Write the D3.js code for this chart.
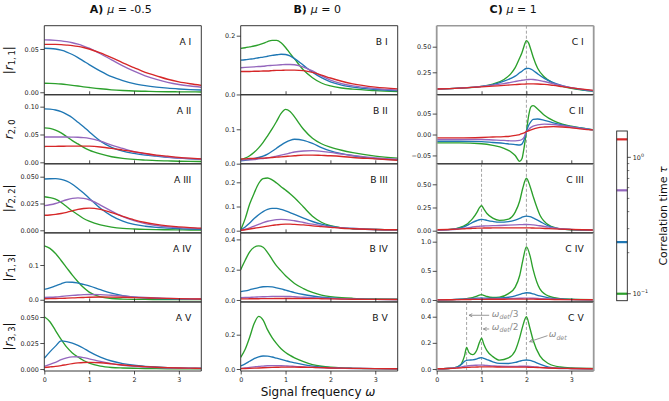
<!DOCTYPE html>
<html><head><meta charset="utf-8">
<script src="https://cdn.jsdelivr.net/npm/d3@7"></script>
<style>body{margin:0;background:#fff} svg{display:block;font-family:"DejaVu Sans",sans-serif}</style>
</head><body><svg id="chart" width="669" height="401"></svg>
<script>
// ---------------- DATA ----------------
const tau = [0.1, 0.239, 0.573, 1.355];           // correlation times (green, blue, purple, red)
const columnTitles = [["A)", "-0.5"], ["B)", "0"], ["C)", "1"]];
const rowSubs = [["1,\u20091", true], ["2,\u20090", false], ["2,\u20092", true], ["1,\u20093", true], ["3,\u20093", true]];
const romans = ["I", "II", "III", "IV", "V"];
const xTicks = [0, 1, 2, 3];

const omegaA = [0,0.125,0.25,0.375,0.5,0.625,0.75,0.875,1,1.25,1.5,1.75,2,2.25,2.5,2.75,3,3.25,3.5];
const omegaB = [0,0.1,0.2,0.3,0.4,0.5,0.6,0.7,0.8,0.9,1.0,1.1,1.2,1.4,1.6,1.8,2.0,2.25,2.5,3.0,3.5];
const omegaC12 = [0,0.5,1.0,1.25,1.5,1.65,1.75,1.85,1.9,1.95,2.0,2.05,2.1,2.15,2.25,2.4,2.6,2.8,3.0,3.25,3.5];
const omegaC345 = [0,0.25,0.45,0.55,0.62,0.667,0.72,0.8,0.9,0.95,1.0,1.05,1.12,1.25,1.4,1.6,1.75,1.85,1.92,2.0,2.08,2.15,2.3,2.5,2.75,3.0,3.5];

// each panel: [green, blue, purple, red]
const A1 = [
 [0.0104,0.0103,0.0100,0.0095,0.0088,0.0080,0.0072,0.0063,0.0055,0.0040,0.0028,0.0020,0.0014,0.0011,0.0008,0.0006,0.0005,0.0004,0.0003],
 [0.0508,0.0506,0.0500,0.0486,0.0465,0.0436,0.0400,0.0360,0.0320,0.0245,0.0180,0.0135,0.0100,0.0077,0.0060,0.0047,0.0038,0.0031,0.0026],
 [0.0605,0.0604,0.0600,0.0594,0.0585,0.0572,0.0555,0.0534,0.0510,0.0445,0.0375,0.0305,0.0243,0.0190,0.0148,0.0115,0.0090,0.0072,0.0058],
 [0.0554,0.0554,0.0553,0.0550,0.0545,0.0539,0.0530,0.0517,0.0500,0.0455,0.0400,0.0340,0.0285,0.0230,0.0190,0.0150,0.0120,0.0098,0.0080]];
const A2 = [
 [0.062,0.061,0.058,0.053,0.046,0.039,0.033,0.027,0.022,0.015,0.010,0.007,0.0052,0.004,0.003,0.0025,0.002,0.0017,0.0015],
 [0.096,0.0955,0.094,0.091,0.086,0.080,0.072,0.064,0.055,0.038,0.027,0.020,0.016,0.013,0.011,0.009,0.0075,0.0062,0.0052],
 [0.0455,0.0455,0.0455,0.0455,0.0455,0.0453,0.045,0.0443,0.043,0.038,0.031,0.025,0.019,0.015,0.012,0.0095,0.0078,0.0065,0.0055],
 [0.0285,0.0286,0.0287,0.0289,0.029,0.0291,0.0292,0.0292,0.029,0.0275,0.025,0.022,0.019,0.016,0.013,0.011,0.009,0.0075,0.0063]];
const A3 = [
 [0.0313,0.0305,0.029,0.026,0.022,0.018,0.0145,0.011,0.0085,0.005,0.003,0.0018,0.0012,0.0008,0.0006,0.0005,0.0004,0.0003,0.0003],
 [0.0478,0.0481,0.0482,0.0475,0.0458,0.043,0.039,0.0347,0.030,0.0205,0.0135,0.0085,0.0055,0.0038,0.0027,0.002,0.0015,0.0012,0.001],
 [0.023,0.0238,0.025,0.0268,0.0285,0.0298,0.0303,0.0298,0.0285,0.0235,0.0178,0.0128,0.009,0.0063,0.0045,0.0033,0.0025,0.002,0.0016],
 [0.014,0.0143,0.0148,0.0157,0.0168,0.0182,0.0195,0.0203,0.0207,0.0195,0.0165,0.013,0.0098,0.0073,0.0055,0.0042,0.0032,0.0025,0.002]];
const A4 = [
 [0.155,0.148,0.133,0.113,0.092,0.071,0.052,0.035,0.022,0.008,0.0035,0.002,0.0013,0.001,0.0008,0.0006,0.0005,0.0004,0.0003],
 [0.030,0.034,0.040,0.046,0.0508,0.0505,0.048,0.044,0.040,0.029,0.019,0.012,0.0075,0.005,0.0035,0.0026,0.002,0.0016,0.0013],
 [0.007,0.0073,0.008,0.0094,0.011,0.0125,0.0138,0.0147,0.0152,0.0148,0.013,0.0108,0.0085,0.0065,0.005,0.004,0.0032,0.0026,0.0021],
 [0.003,0.0032,0.0035,0.004,0.0045,0.0052,0.006,0.0066,0.0072,0.0078,0.0077,0.0072,0.0063,0.0054,0.0045,0.0038,0.0032,0.0027,0.0023]];
const A5 = [
 [0.0503,0.0455,0.037,0.0285,0.021,0.0155,0.0115,0.0082,0.0057,0.0028,0.0015,0.001,0.0007,0.0005,0.0004,0.0003,0.0002,0.0002,0.0002],
 [0.0103,0.0165,0.022,0.0271,0.0264,0.0250,0.0228,0.020,0.0168,0.0115,0.0077,0.0052,0.0036,0.0026,0.0019,0.0014,0.0011,0.0009,0.0007],
 [0.0025,0.0045,0.0065,0.009,0.0108,0.0117,0.0118,0.0110,0.0098,0.0073,0.0052,0.0036,0.0025,0.0018,0.0013,0.001,0.0008,0.0006,0.0005],
 [0.0015,0.002,0.0025,0.0033,0.0043,0.0052,0.0059,0.0063,0.0064,0.006,0.005,0.0039,0.003,0.0023,0.0017,0.0013,0.001,0.0008,0.0006]];

const B1 = [
 [0.157,0.159,0.162,0.165,0.169,0.174,0.180,0.184,0.184,0.176,0.160,0.140,0.121,0.083,0.057,0.039,0.029,0.022,0.018,0.013,0.0095],
 [0.117,0.118,0.120,0.122,0.125,0.127,0.130,0.133,0.135,0.137,0.136,0.131,0.122,0.099,0.076,0.057,0.043,0.032,0.025,0.017,0.013],
 [0.091,0.092,0.093,0.094,0.095,0.096,0.098,0.099,0.100,0.101,0.102,0.102,0.101,0.093,0.080,0.063,0.049,0.037,0.029,0.020,0.015],
 [0.078,0.078,0.078,0.079,0.079,0.080,0.080,0.081,0.082,0.082,0.083,0.083,0.083,0.081,0.075,0.066,0.056,0.045,0.036,0.025,0.019]];
const B2 = [
 [0.011,0.016,0.023,0.033,0.046,0.062,0.081,0.101,0.123,0.146,0.158,0.152,0.136,0.100,0.074,0.058,0.048,0.039,0.032,0.022,0.016],
 [0.008,0.010,0.012,0.015,0.018,0.022,0.028,0.036,0.045,0.054,0.062,0.068,0.071,0.068,0.059,0.047,0.037,0.029,0.023,0.015,0.011],
 [0.010,0.011,0.011,0.012,0.014,0.015,0.017,0.019,0.022,0.025,0.028,0.031,0.034,0.037,0.038,0.036,0.033,0.028,0.024,0.017,0.013],
 [0.014,0.014,0.015,0.015,0.016,0.016,0.017,0.018,0.019,0.020,0.021,0.022,0.023,0.025,0.025,0.024,0.023,0.021,0.018,0.014,0.010]];
const B3 = [
 [0.003,0.050,0.110,0.155,0.195,0.215,0.218,0.210,0.197,0.182,0.168,0.153,0.136,0.098,0.060,0.035,0.021,0.012,0.008,0.005,0.004],
 [0.003,0.015,0.032,0.050,0.066,0.079,0.088,0.092,0.092,0.088,0.082,0.075,0.067,0.052,0.038,0.027,0.019,0.012,0.009,0.005,0.004],
 [0.002,0.006,0.012,0.019,0.026,0.033,0.039,0.043,0.046,0.047,0.046,0.044,0.041,0.034,0.027,0.021,0.016,0.012,0.009,0.005,0.004],
 [0.002,0.004,0.007,0.010,0.013,0.016,0.019,0.022,0.024,0.026,0.027,0.027,0.026,0.024,0.020,0.017,0.014,0.010,0.008,0.005,0.004]];
const B4 = [
 [0.200,0.262,0.318,0.348,0.357,0.348,0.313,0.268,0.225,0.192,0.160,0.133,0.109,0.075,0.050,0.032,0.022,0.015,0.011,0.007,0.005],
 [0.055,0.060,0.067,0.075,0.082,0.087,0.088,0.086,0.080,0.073,0.065,0.057,0.049,0.036,0.026,0.018,0.013,0.009,0.007,0.004,0.003],
 [0.015,0.016,0.017,0.019,0.020,0.021,0.022,0.023,0.024,0.024,0.023,0.023,0.021,0.018,0.015,0.012,0.010,0.008,0.006,0.004,0.003],
 [0.007,0.007,0.008,0.008,0.008,0.009,0.009,0.009,0.010,0.010,0.010,0.010,0.010,0.009,0.009,0.008,0.007,0.006,0.005,0.004,0.003]];
const B5 = [
 [0.068,0.115,0.185,0.265,0.307,0.285,0.228,0.183,0.148,0.118,0.096,0.079,0.065,0.043,0.026,0.016,0.010,0.006,0.004,0.002,0.0015],
 [0.018,0.030,0.045,0.060,0.071,0.076,0.075,0.070,0.063,0.056,0.049,0.042,0.036,0.025,0.017,0.011,0.008,0.005,0.004,0.002,0.0015],
 [0.004,0.006,0.009,0.012,0.015,0.017,0.019,0.020,0.020,0.019,0.018,0.017,0.015,0.012,0.009,0.007,0.005,0.004,0.003,0.002,0.0015],
 [0.002,0.003,0.004,0.005,0.006,0.007,0.008,0.009,0.010,0.011,0.011,0.011,0.011,0.010,0.009,0.008,0.006,0.005,0.004,0.002,0.0015]];

const C1 = [
 [0.087,0.095,0.113,0.135,0.180,0.235,0.295,0.390,0.440,0.510,0.560,0.535,0.470,0.400,0.290,0.205,0.145,0.113,0.093,0.077,0.065],
 [0.087,0.095,0.113,0.130,0.163,0.190,0.213,0.245,0.260,0.277,0.287,0.288,0.282,0.268,0.235,0.190,0.148,0.120,0.098,0.080,0.066],
 [0.087,0.095,0.112,0.125,0.140,0.152,0.160,0.168,0.172,0.175,0.178,0.180,0.181,0.180,0.174,0.160,0.138,0.118,0.100,0.083,0.070],
 [0.087,0.095,0.108,0.115,0.122,0.127,0.130,0.133,0.134,0.135,0.136,0.137,0.137,0.137,0.136,0.132,0.122,0.110,0.098,0.085,0.073]];
const C2 = [
 [-0.020,-0.020,-0.022,-0.026,-0.033,-0.041,-0.050,-0.064,-0.058,-0.030,0.007,0.045,0.066,0.069,0.061,0.046,0.033,0.025,0.020,0.015,0.011],
 [-0.016,-0.016,-0.017,-0.019,-0.021,-0.023,-0.024,-0.025,-0.023,-0.012,0.007,0.022,0.031,0.036,0.037,0.034,0.028,0.023,0.019,0.015,0.011],
 [-0.012,-0.012,-0.012,-0.013,-0.014,-0.015,-0.015,-0.014,-0.012,-0.006,0.007,0.012,0.017,0.020,0.023,0.025,0.024,0.021,0.018,0.014,0.011],
 [-0.008,-0.008,-0.007,-0.006,-0.005,-0.004,-0.002,0.000,0.002,0.004,0.007,0.009,0.011,0.013,0.016,0.018,0.019,0.018,0.016,0.013,0.011]];
const C3 = [
 [0.008,0.012,0.025,0.040,0.055,0.068,0.090,0.130,0.200,0.245,0.270,0.235,0.185,0.135,0.112,0.125,0.200,0.320,0.460,0.565,0.480,0.370,0.170,0.060,0.020,0.010,0.007],
 [0.008,0.012,0.022,0.032,0.045,0.055,0.068,0.090,0.110,0.118,0.122,0.120,0.112,0.100,0.092,0.098,0.115,0.133,0.148,0.157,0.152,0.138,0.100,0.050,0.020,0.012,0.007],
 [0.006,0.009,0.016,0.022,0.027,0.030,0.034,0.040,0.046,0.048,0.050,0.051,0.052,0.054,0.056,0.060,0.063,0.065,0.066,0.067,0.066,0.063,0.053,0.038,0.022,0.014,0.008],
 [0.010,0.013,0.017,0.019,0.021,0.022,0.023,0.025,0.027,0.028,0.028,0.029,0.029,0.030,0.031,0.031,0.031,0.031,0.031,0.031,0.030,0.029,0.027,0.022,0.017,0.013,0.008]];
const C4 = [
 [0.005,0.007,0.012,0.016,0.020,0.024,0.030,0.042,0.065,0.085,0.092,0.080,0.060,0.045,0.050,0.110,0.220,0.420,0.680,0.910,0.760,0.520,0.190,0.065,0.025,0.013,0.006],
 [0.004,0.006,0.010,0.013,0.016,0.018,0.021,0.026,0.031,0.033,0.034,0.033,0.031,0.030,0.034,0.048,0.070,0.095,0.113,0.125,0.120,0.105,0.070,0.037,0.017,0.010,0.005],
 [0.003,0.005,0.008,0.010,0.011,0.012,0.013,0.015,0.017,0.018,0.018,0.019,0.019,0.020,0.022,0.025,0.028,0.030,0.031,0.032,0.031,0.030,0.025,0.018,0.011,0.007,0.004],
 [0.003,0.004,0.006,0.007,0.008,0.008,0.009,0.010,0.011,0.011,0.012,0.012,0.012,0.013,0.013,0.014,0.014,0.014,0.014,0.014,0.014,0.014,0.012,0.010,0.008,0.006,0.004]];
const C5 = [
 [0.002,0.004,0.015,0.040,0.100,0.165,0.125,0.110,0.150,0.200,0.235,0.190,0.140,0.095,0.068,0.085,0.140,0.240,0.330,0.400,0.310,0.220,0.100,0.040,0.015,0.008,0.004],
 [0.002,0.004,0.015,0.035,0.058,0.066,0.068,0.070,0.078,0.084,0.087,0.082,0.072,0.055,0.043,0.042,0.050,0.060,0.066,0.069,0.066,0.058,0.037,0.015,0.006,0.004,0.002],
 [0.002,0.004,0.010,0.016,0.021,0.023,0.025,0.027,0.029,0.030,0.030,0.029,0.027,0.024,0.021,0.020,0.020,0.021,0.021,0.021,0.020,0.018,0.013,0.008,0.004,0.003,0.002],
 [0.002,0.004,0.007,0.009,0.011,0.012,0.013,0.014,0.015,0.016,0.016,0.016,0.016,0.016,0.015,0.014,0.014,0.014,0.014,0.014,0.013,0.013,0.011,0.008,0.005,0.004,0.002]];

// y ranges and tick values per panel
const yDomains = {
  A1:[-0.0029,0.0769], A2:[-0.0027,0.1214], A3:[-0.0024,0.062], A4:[-0.0063,0.1925], A5:[-0.0019,0.0645],
  B1:[-0.001,0.234], B2:[-0.0004,0.2004], B3:[-0.009,0.2764], B4:[-0.013,0.443], B5:[-0.0117,0.391],
  C1:[0.0307,0.705], C2:[-0.070,0.095], C3:[-0.0235,0.7207], C4:[-0.033,1.151], C5:[-0.0153,0.513]};
const yTickVals = {
  A1:[0,0.05], A2:[0,0.05,0.10], A3:[0,0.025,0.05], A4:[0,0.1], A5:[0,0.025,0.05],
  B1:[0,0.2], B2:[0,0.1], B3:[0,0.1,0.2], B4:[0,0.2,0.4], B5:[0,0.2],
  C1:[0.25,0.5], C2:[-0.05,0,0.05], C3:[0,0.25,0.5], C4:[0,0.5,1.0], C5:[0,0.2,0.4]};
const yTickFmt = {A1:".2f",A2:".2f",A3:".3f",A4:".1f",A5:".3f",B1:".1f",B2:".1f",B3:".1f",B4:".1f",B5:".1f",
  C1:".2f",C2:".2f",C3:".2f",C4:".1f",C5:".1f"};
const resonances = {C1:[2], C2:[2], C3:[1,2], C4:[1,2], C5:[2/3,1,2]};
// annotations in C V (data coords): label, text pos, arrow start, arrow tip
const annotations = [
  {sub:"det", suffix:"/3", text:[1.23,0.398], from:[1.17,0.411], to:[0.72,0.411]},
  {sub:"det", suffix:"/2", text:[1.23,0.298], from:[1.17,0.306], to:[1.04,0.306]},
  {sub:"det", suffix:"",   text:[2.50,0.241], from:[2.47,0.255], to:[2.07,0.209]}];

// ---------------- DRAWING ----------------
const svg = d3.select("#chart");
const colors = ["#2ca02c","#1f77b4","#9467bd","#d62728"];
const colX = [44.3, 240.7, 436.7], PW = 157;
const top0 = 25.7, PH = 69.06;
const data = {A1,A2,A3,A4,A5,B1,B2,B3,B4,B5,C1,C2,C3,C4,C5};
const omegas = {A:omegaA, B:omegaB};
const TICKFS = 6.4;

["A","B","C"].forEach((colName, ci) => {
  const x0 = colX[ci];
  const x = d3.scaleLinear().domain([0,3.5]).range([x0, x0+PW]);
  for (let ri = 0; ri < 5; ri++) {
    const key = colName + (ri+1);
    const yTop = top0 + ri*PH, yBot = yTop + PH;
    const y = d3.scaleLinear().domain(yDomains[key]).range([yBot, yTop]);
    const omega = colName === "C" ? (ri < 2 ? omegaC12 : omegaC345) : omegas[colName];
    const g = svg.append("g");
    const clipId = "clip-" + key;
    svg.append("clipPath").attr("id", clipId).append("rect")
      .attr("x", x0).attr("y", yTop).attr("width", PW).attr("height", PH);
    const plot = g.append("g").attr("clip-path", `url(#${clipId})`);
    // resonance guides
    (resonances[key] || []).forEach(w => {
      plot.append("line").attr("x1", x(w)).attr("x2", x(w))
        .attr("y1", yTop).attr("y2", yBot)
        .attr("stroke", "#9a9a9a").attr("stroke-width", 0.9).attr("stroke-dasharray", "3,2");
    });
    const line = d3.line().x(d => x(d[0])).y(d => y(d[1])).curve(d3.curveMonotoneX);
    data[key].forEach((vals, si) => {
      plot.append("path").datum(omega.map((w, i) => [w, vals[i]]))
        .attr("d", line).attr("fill", "none")
        .attr("stroke", colors[si]).attr("stroke-width", 1.35);
    });
    // frame
    const isC = colName === "C";
    const fr = g.append("g");
    fr.append("line").attr("x1",x0).attr("x2",x0+PW).attr("y1",yBot).attr("y2",yBot).attr("stroke","#222").attr("stroke-width",0.9);
    fr.append("line").attr("x1",x0).attr("x2",x0+PW).attr("y1",yTop).attr("y2",yTop)
      .attr("stroke", isC && ri===0 ? "#999" : "#222").attr("stroke-width", isC && ri===0 ? 1.6 : 0.9);
    [x0, x0+PW].forEach(xx => fr.append("line").attr("x1",xx).attr("x2",xx).attr("y1",yTop).attr("y2",yBot)
      .attr("stroke", isC ? "#999" : "#222").attr("stroke-width", isC ? 1.8 : 0.9));
    // y axis
    const yAx = g.append("g").attr("transform", `translate(${x0},0)`)
      .call(d3.axisLeft(y).tickValues(yTickVals[key]).tickFormat(d3.format(yTickFmt[key])).tickSize(4).tickPadding(1.5));
    yAx.select(".domain").remove();
    yAx.selectAll("line").attr("stroke","#222").attr("stroke-width",0.8);
    yAx.selectAll("text").attr("font-size", TICKFS).attr("font-family","DejaVu Sans").attr("fill","#222");
    // x axis
    if (ri < 4) {
      const xAx = g.append("g").attr("transform", `translate(0,${yBot})`)
        .call(d3.axisBottom(x).tickValues(xTicks.slice(1)).tickSize(-3.5).tickFormat(""));
      xAx.select(".domain").remove();
      xAx.selectAll("line").attr("stroke","#222").attr("stroke-width",0.8);
    } else {
      const xAx = g.append("g").attr("transform", `translate(0,${yBot})`)
        .call(d3.axisBottom(x).tickValues(xTicks).tickSize(3.5).tickPadding(2.5).tickFormat(d3.format("d")));
      xAx.select(".domain").remove();
      xAx.selectAll("line").attr("stroke","#222").attr("stroke-width",0.8);
      xAx.selectAll("text").attr("font-size", TICKFS).attr("font-family","DejaVu Sans").attr("fill","#222");
    }
    // panel label
    g.append("text").attr("x", x0+PW-10).attr("y", yTop+19.5).attr("text-anchor","end")
      .attr("font-size", 9.2).attr("fill","#111").text(colName + " " + romans[ri]);

    // annotations in C V
    if (key === "C5") {
      const ag = g.append("g");
      annotations.forEach(a => {
        const t = ag.append("text").attr("x", x(a.text[0])).attr("y", y(a.text[1]))
          .attr("font-size", 9).attr("fill", "#8c8c8c");
        t.append("tspan").attr("font-style","italic").text("ω");
        t.append("tspan").attr("font-style","italic").attr("font-size",6.3).attr("dy",2.2).text(a.sub);
        t.append("tspan").attr("dy",-2.2).text(a.suffix);
        const x1 = x(a.from[0]), y1 = y(a.from[1]), x2 = x(a.to[0]), y2 = y(a.to[1]);
        const ang = Math.atan2(y2-y1, x2-x1), hl = 3.6, hw = 0.45;
        const p = d3.path();
        p.moveTo(x1,y1); p.lineTo(x2,y2);
        p.moveTo(x2 - hl*Math.cos(ang-hw), y2 - hl*Math.sin(ang-hw)); p.lineTo(x2,y2);
        p.lineTo(x2 - hl*Math.cos(ang+hw), y2 - hl*Math.sin(ang+hw));
        ag.append("path").attr("d", p.toString()).attr("fill","none").attr("stroke","#8c8c8c").attr("stroke-width",0.9);
      });
    }
  }
  // column title
  const tt = svg.append("text").attr("x", x0 + PW/2 - 2).attr("y", 12.8).attr("text-anchor","middle")
    .attr("font-size", 11).attr("fill","#111");
  tt.append("tspan").attr("font-weight","bold").text(columnTitles[ci][0] + " ");
  tt.append("tspan").attr("font-style","italic").text("μ");
  tt.append("tspan").text(" = " + columnTitles[ci][1]);
});

// y labels
rowSubs.forEach(([sub, abs], ri) => {
  const cy = top0 + ri*PH + PH/2;
  const t = svg.append("text").attr("transform", `translate(12.5,${cy}) rotate(-90)`)
    .attr("text-anchor","middle").attr("font-size", 12).attr("fill","#111");
  if (abs) t.append("tspan").text("|");
  t.append("tspan").attr("font-style","italic").text("r");
  t.append("tspan").attr("font-size", 8.4).attr("dy", 2.6).text(sub);
  t.append("tspan").attr("dy", -2.6).text(abs ? "|" : "");
});

// x label
const xl = svg.append("text").attr("x", 318).attr("y", 396).attr("text-anchor","middle")
  .attr("font-size", 12).attr("fill","#111");
xl.append("tspan").text("Signal frequency ");
xl.append("tspan").attr("font-style","italic").text("ω");

// colorbar
const cbX = 616.7, cbW = 10.6, cbTop = 131, cbBot = 300.7;
const cy = d3.scaleLog().domain([0.0889, 1.56]).range([cbBot, cbTop]);
const cb = svg.append("g");
cb.append("rect").attr("x",cbX).attr("y",cbTop).attr("width",cbW).attr("height",cbBot-cbTop).attr("fill","#fff");
tau.forEach((t, i) => cb.append("line").attr("x1",cbX).attr("x2",cbX+cbW).attr("y1",cy(t)).attr("y2",cy(t))
  .attr("stroke", colors[i]).attr("stroke-width", 2.2));
cb.append("rect").attr("x",cbX).attr("y",cbTop).attr("width",cbW).attr("height",cbBot-cbTop)
  .attr("fill","none").attr("stroke","#222").attr("stroke-width",0.9);
const majors = [0.1, 1], minors = [0.2,0.3,0.4,0.5,0.6,0.7,0.8,0.9];
minors.forEach(v => cb.append("line").attr("x1",cbX+cbW).attr("x2",cbX+cbW+2).attr("y1",cy(v)).attr("y2",cy(v))
  .attr("stroke","#222").attr("stroke-width",0.6));
majors.forEach((v,i) => {
  cb.append("line").attr("x1",cbX+cbW).attr("x2",cbX+cbW+3.5).attr("y1",cy(v)).attr("y2",cy(v))
    .attr("stroke","#222").attr("stroke-width",0.8);
  const t = cb.append("text").attr("x", cbX+cbW+5.5).attr("y", cy(v)+2.3).attr("font-size", TICKFS).attr("fill","#222");
  t.append("tspan").text("10");
  t.append("tspan").attr("font-size",4.8).attr("dy",-3).text(i === 0 ? "\u22121" : "0");
});
const cl = svg.append("text").attr("transform", `translate(667,216) rotate(-90)`).attr("text-anchor","middle")
  .attr("font-size", 11).attr("fill","#111");
cl.append("tspan").text("Correlation time ");
cl.append("tspan").attr("font-style","italic").text("τ");
</script></body></html>
